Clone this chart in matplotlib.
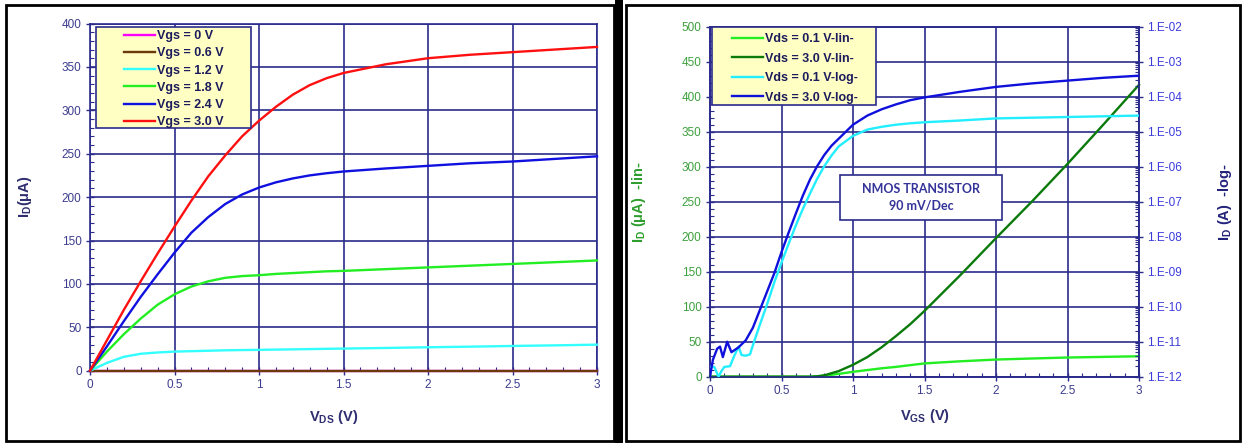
"""NMOS transistor output and transfer characteristics (two panels)."""

import numpy as np
import matplotlib

matplotlib.use("Agg")
import matplotlib.pyplot as plt
from matplotlib.patches import Rectangle
from matplotlib.ticker import MultipleLocator, FixedLocator, LogLocator, FuncFormatter, NullFormatter

plt.rcParams["font.family"] = ["Liberation Sans", "DejaVu Sans"]
plt.rcParams["mathtext.fontset"] = "custom"
plt.rcParams["mathtext.rm"] = "Liberation Sans:bold"

# ---- left panel: ID vs VDS ----
vds = [0, 0.1, 0.2, 0.3, 0.4, 0.5, 0.6, 0.7, 0.8, 0.9, 1.0, 1.1, 1.2, 1.3, 1.4,
       1.5, 1.75, 2.0, 2.25, 2.5, 2.75, 3.0]
id_vgs_0 = [0] * len(vds)
id_vgs_06 = [0] * len(vds)
id_vgs_12 = [0, 9, 16, 19.5, 21, 22, 22.5, 23, 23.5, 23.8, 24, 24.3, 24.6, 24.9, 25.2,
             25.5, 26.2, 27, 27.7, 28.5, 29.2, 30]
id_vgs_18 = [0, 22, 42, 60, 76, 88, 97, 103, 107, 109, 110, 111.5, 112.5, 113.5, 114.5,
             115, 117, 119, 121, 123, 125, 127]
id_vgs_24 = [0, 28, 57, 85, 111, 136, 159, 177, 192, 203, 211, 217, 221.5, 225, 227.5,
             229.5, 233, 236, 239, 241, 244, 247]
id_vgs_30 = [0, 35, 70, 103, 135, 166, 196, 224, 248, 270, 288, 304, 318, 329, 337,
             343, 353, 360, 364, 367, 370, 373]
vgs_labels = ["Vgs = 0 V", "Vgs = 0.6 V", "Vgs = 1.2 V", "Vgs = 1.8 V", "Vgs = 2.4 V", "Vgs = 3.0 V"]

# ---- right panel: ID vs VGS ----
vgs_lin_01 = [0, 0.7, 0.8, 0.9, 1.0, 1.1, 1.2, 1.3, 1.4, 1.5, 1.75, 2.0, 2.25, 2.5, 2.75, 3.0]
id_lin_01 = [0, 0, 1.4, 4, 7, 9.5, 12, 14, 16.5, 19, 22, 24.5, 26, 27.4, 28.3, 29.2]
vgs_lin_30 = [0, 0.7, 0.75, 0.8, 0.9, 1.0, 1.1, 1.2, 1.3, 1.4, 1.5, 1.75, 2.0, 2.25, 2.5, 2.75, 3.0]
id_lin_30 = [0, 0, 0.5, 2, 8, 17, 28, 42, 58, 75, 94, 145, 198, 250, 304, 360, 417]
# log currents given as decades, log10(ID / A)
vgs_log_01 = [0, 0.03, 0.06, 0.08, 0.1, 0.14, 0.17, 0.2, 0.22, 0.25, 0.28, 0.3, 0.35, 0.4,
              0.45, 0.5, 0.55, 0.6, 0.65, 0.7, 0.75, 0.8, 0.85, 0.9, 1.0, 1.1, 1.2, 1.3,
              1.4, 1.5, 1.75, 2.0, 2.5, 3.0]
dec_log_01 = [-11.72, -11.72, -12.0, -11.84, -11.72, -11.7, -11.4, -11.14, -11.38, -11.4,
              -11.36, -11.1, -10.5, -9.92, -9.3, -8.74, -8.2, -7.68, -7.2, -6.76, -6.34,
              -5.98, -5.68, -5.42, -5.12, -4.94, -4.86, -4.8, -4.76, -4.73, -4.68, -4.62,
              -4.58, -4.54]
vgs_log_30 = [0, 0.02, 0.05, 0.07, 0.09, 0.12, 0.15, 0.2, 0.25, 0.3, 0.35, 0.4, 0.45, 0.5,
              0.55, 0.6, 0.65, 0.7, 0.75, 0.8, 0.85, 0.9, 1.0, 1.1, 1.2, 1.3, 1.4, 1.5,
              1.75, 2.0, 2.25, 2.5, 2.75, 3.0]
dec_log_30 = [-12.0, -11.52, -11.2, -11.14, -11.44, -11.0, -11.3, -11.16, -10.96, -10.6,
              -10.08, -9.56, -9.04, -8.44, -7.88, -7.34, -6.82, -6.36, -5.98, -5.66, -5.4,
              -5.2, -4.8, -4.54, -4.36, -4.22, -4.1, -4.02, -3.86, -3.72, -3.62, -3.54,
              -3.46, -3.4]
vds_labels = ["Vds = 0.1 V-lin-", "Vds = 3.0 V-lin-", "Vds = 0.1 V-log-", "Vds = 3.0 V-log-"]

NAVY = "#2B2B8C"
TICK_NAVY = "#3C3C8E"
LEG_TEXT = "#1C1C5C"
LEG_FACE = "#FFFFC4"

W, H = 1243, 443
fig = plt.figure(figsize=(W / 100, H / 100), dpi=100)


def px_box(x0, y0, x1, y1):
    return (x0 / W, 1 - y1 / H, (x1 - x0) / W, (y1 - y0) / H)


def style_axes(ax):
    for sp in ax.spines.values():
        sp.set_color(NAVY)
        sp.set_linewidth(1.2)
    ax.grid(True, which="major", color=NAVY, linewidth=1.2)
    ax.set_axisbelow(True)
    ax.tick_params(which="major", direction="inout", length=6, width=1, color=NAVY,
                   labelsize=8.5, labelcolor=TICK_NAVY, pad=3)
    ax.tick_params(which="minor", direction="in", length=3, width=0.8, color=NAVY)


def legend_box(ax, x0, y0, x1, y1):
    ax.add_patch(Rectangle((x0, y0), x1 - x0, y1 - y0, transform=ax.transAxes,
                           facecolor=LEG_FACE, edgecolor=NAVY, linewidth=1.2,
                           zorder=5, clip_on=False))


# panel frames
for x0, x1 in [(6, 614), (626, 1240)]:
    bx = px_box(x0, 5, x1, 441)
    fig.add_artist(Rectangle(bx[:2], bx[2], bx[3], transform=fig.transFigure,
                             fill=False, edgecolor="black", linewidth=2))
fig.add_artist(Rectangle(px_box(615, 0, 623, 443)[:2], 8 / W, 1, transform=fig.transFigure,
                         facecolor="black", edgecolor="none"))

# ---------------- left panel ----------------
ax1 = fig.add_axes([90 / W, 1 - 370.7 / H, 507 / W, 347.2 / H])
style_axes(ax1)
left_series = [id_vgs_0, id_vgs_06, id_vgs_12, id_vgs_18, id_vgs_24, id_vgs_30]
left_colors = ["#FF00FF", "#6B3A0A", "#33FFFF", "#22EE22", "#1010E0", "#FF1010"]
for ys, col, lab in zip(left_series, left_colors, vgs_labels):
    ax1.plot(vds, ys, color=col, linewidth=1.7, label=lab, clip_on=False, zorder=3)
ax1.set_xlim(0, 3)
ax1.set_ylim(0, 400)
ax1.xaxis.set_major_locator(MultipleLocator(0.5))
ax1.xaxis.set_minor_locator(MultipleLocator(0.1))
ax1.yaxis.set_major_locator(MultipleLocator(50))
ax1.yaxis.set_minor_locator(MultipleLocator(10))
ax1.xaxis.set_major_formatter(FuncFormatter(lambda v, p: f"{v:g}"))
ax1.set_xlabel("V$_\\mathrm{DS}$ (V)", fontsize=10.5, fontweight="bold", color="#2E2E70")
ax1.xaxis.set_label_coords(0.48, -0.108)
ax1.set_ylabel("I$_\\mathrm{D}$(μA)", fontsize=10.5, fontweight="bold", color="#2E2E70")
ax1.yaxis.set_label_coords(-0.110, 0.5)

legend_box(ax1, 0.0112, 0.698, 0.317, 0.989)
leg1 = ax1.legend(loc="upper left", bbox_to_anchor=(0.067, 0.981), frameon=False,
                  borderaxespad=0, borderpad=0, handlelength=2.5, handletextpad=0.15,
                  labelspacing=0.42, prop={"size": 9, "weight": "bold"})
leg1.set_zorder(6)
for t in leg1.get_texts():
    t.set_color(LEG_TEXT)

# ---------------- right panel ----------------
ax2 = fig.add_axes([710 / W, 1 - 376.7 / H, 429 / W, 350 / H])
style_axes(ax2)
ax3 = ax2.twinx()
for sp in ax3.spines.values():
    sp.set_color(NAVY)
    sp.set_linewidth(1.2)

l1, = ax2.plot(vgs_lin_01, id_lin_01, color="#22EE22", linewidth=1.7, clip_on=False, zorder=3)
l2, = ax2.plot(vgs_lin_30, id_lin_30, color="#0A7A0A", linewidth=1.7, clip_on=False, zorder=3)
l3, = ax3.plot(vgs_log_01, 10.0 ** np.array(dec_log_01), color="#22EEFF", linewidth=1.7, zorder=3)
l4, = ax3.plot(vgs_log_30, 10.0 ** np.array(dec_log_30), color="#1010DD", linewidth=1.7, zorder=3)

ax2.set_xlim(0, 3)
ax2.set_ylim(0, 500)
ax2.xaxis.set_major_locator(MultipleLocator(0.5))
ax2.xaxis.set_minor_locator(MultipleLocator(0.1))
ax2.yaxis.set_major_locator(MultipleLocator(50))
ax2.yaxis.set_minor_locator(MultipleLocator(10))
ax2.xaxis.set_major_formatter(FuncFormatter(lambda v, p: f"{v:g}"))
ax2.tick_params(axis="y", which="major", labelcolor="#3CA03C")

ax3.set_yscale("log")
ax3.set_ylim(1e-12, 1e-2)
ax3.yaxis.set_major_locator(FixedLocator([10.0 ** k for k in range(-12, -1)]))
ax3.yaxis.set_minor_locator(LogLocator(base=10, subs=np.arange(2, 10), numticks=100))
ax3.yaxis.set_minor_formatter(NullFormatter())
ax3.yaxis.set_major_formatter(FuncFormatter(lambda v, p: f"1.E{int(round(np.log10(v))):+03d}"))
ax3.tick_params(which="major", direction="inout", length=6, width=1, color=NAVY,
                labelsize=8.5, labelcolor="#3C3CDC", pad=3)
ax3.tick_params(which="minor", direction="in", length=3, width=0.8, color=NAVY)

ax2.set_xlabel("V$_\\mathrm{GS}$ (V)", fontsize=10.5, fontweight="bold", color="#2E2E70")
ax2.xaxis.set_label_coords(0.5, -0.087)
ax2.set_ylabel("I$_\\mathrm{D}$ (μA)  -lin-", fontsize=10.5, fontweight="bold", color="#2E9E2E")
ax2.yaxis.set_label_coords(-0.145, 0.5)
ax3.set_ylabel("I$_\\mathrm{D}$ (A)  -log-", fontsize=10.5, fontweight="bold", color="#22227A")
ax3.yaxis.set_label_coords(1.179, 0.5)

# annotation box
ax3.add_patch(Rectangle((0.91, 224), 1.13, 64, transform=ax2.transData, facecolor="white",
                        edgecolor=NAVY, linewidth=1.2, zorder=5))
ax3.text(1.475, 256, "NMOS TRANSISTOR\n90 mV/Dec", transform=ax2.transData, ha="center",
         va="center", fontsize=9, fontweight="bold", color="#333399", family=["Lato", "DejaVu Sans"],
         linespacing=1.5, zorder=6)

legend_box(ax3, 0.0047, 0.776, 0.387, 0.999)
leg2 = ax3.legend([l1, l2, l3, l4], vds_labels, loc="upper left", bbox_to_anchor=(0.051, 0.982),
                  frameon=False, borderaxespad=0, borderpad=0, handlelength=2.5,
                  handletextpad=0.15, labelspacing=0.6, prop={"size": 9, "weight": "bold"})
leg2.set_zorder(6)
for t in leg2.get_texts():
    t.set_color(LEG_TEXT)

fig.savefig("out.png", dpi=100)
